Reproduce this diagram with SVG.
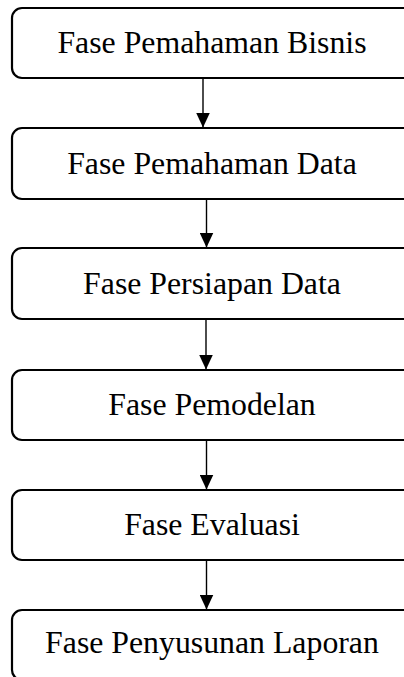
<svg xmlns="http://www.w3.org/2000/svg" width="404" height="677" viewBox="0 0 404 677">
  <style>
    .box { fill: #ffffff; stroke: #000000; stroke-width: 2.2; }
    .label { font-family: "Liberation Serif", "Times New Roman", serif; font-size: 31.8px; fill: #000000; text-anchor: middle; }
    .link { stroke: #000000; stroke-width: 1.4; fill: none; }
  </style>
  <defs>
    <marker id="arrow" markerWidth="15" markerHeight="14" refX="15" refY="7" orient="auto" markerUnits="userSpaceOnUse" viewBox="0 0 15 14">
      <path d="M0,0 L15,7 L0,14 Z" fill="#000000"/>
    </marker>
  </defs>
  <rect width="404" height="677" fill="#ffffff"/>

  <g id="connectors">
    <line class="link" x1="203" y1="78" x2="203" y2="127.5" marker-end="url(#arrow)"/>
    <line class="link" x1="206.5" y1="199" x2="206.5" y2="247.5" marker-end="url(#arrow)"/>
    <line class="link" x1="206" y1="319" x2="206" y2="369.5" marker-end="url(#arrow)"/>
    <line class="link" x1="206.5" y1="440" x2="206.5" y2="489.5" marker-end="url(#arrow)"/>
    <line class="link" x1="206.5" y1="560" x2="206.5" y2="609.5" marker-end="url(#arrow)"/>
  </g>

  <g id="node-bisnis">
    <rect class="box" x="12" y="8" width="402" height="70" rx="10"/>
    <text class="label" x="212" y="53">Fase Pemahaman Bisnis</text>
  </g>
  <g id="node-data">
    <rect class="box" x="12" y="128" width="402" height="71" rx="10"/>
    <text class="label" x="212" y="173.5">Fase Pemahaman Data</text>
  </g>
  <g id="node-persiapan">
    <rect class="box" x="12" y="248" width="402" height="71" rx="10"/>
    <text class="label" x="212" y="293.5">Fase Persiapan Data</text>
  </g>
  <g id="node-pemodelan">
    <rect class="box" x="12" y="370" width="402" height="70" rx="10"/>
    <text class="label" x="212" y="415">Fase Pemodelan</text>
  </g>
  <g id="node-evaluasi">
    <rect class="box" x="12" y="490" width="402" height="70" rx="10"/>
    <text class="label" x="212" y="535">Fase Evaluasi</text>
  </g>
  <g id="node-laporan">
    <rect class="box" x="12" y="610" width="402" height="70" rx="10"/>
    <text class="label" x="212" y="653">Fase Penyusunan Laporan</text>
  </g>
</svg>
